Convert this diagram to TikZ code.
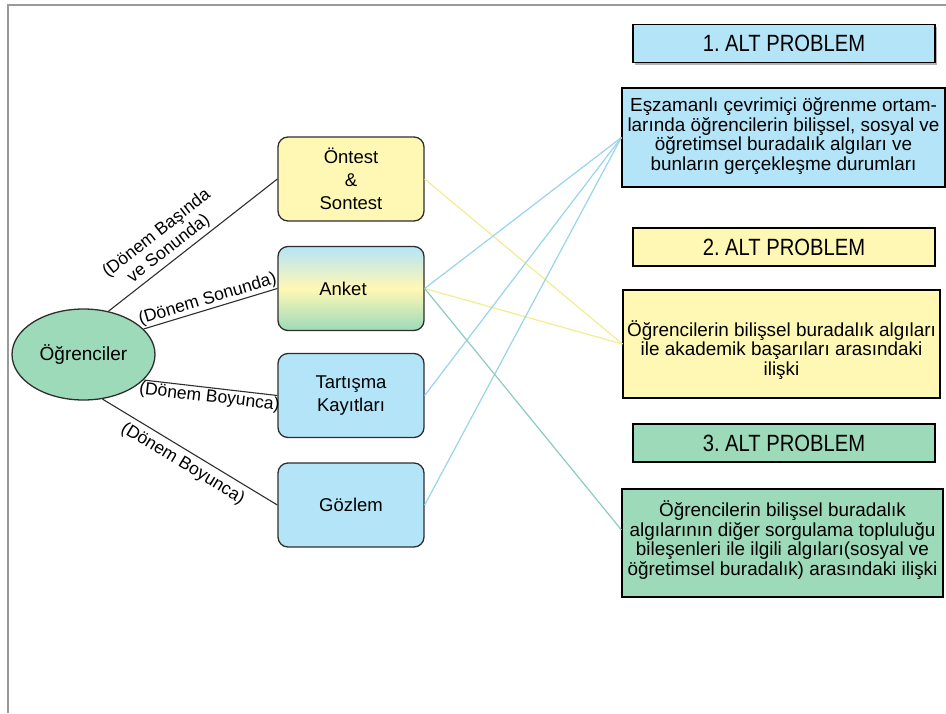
\documentclass[tikz,border=0pt]{standalone}
\usepackage{fontspec}
\setmainfont{Liberation Sans}
\newfontfamily\narrowsans[FakeStretch=0.86]{Liberation Sans}
\usetikzlibrary{shapes.geometric,shadows,calc}

\definecolor{pyellow}{HTML}{FFF8B4}
\definecolor{pblue}{HTML}{B4E4F7}
\definecolor{pgreen}{HTML}{9CDAB9}
\definecolor{edgedark}{HTML}{2E2E2E}
\definecolor{linkyellow}{HTML}{F3ED98}
\definecolor{linkblue}{HTML}{98D4EC}
\definecolor{linkteal}{HTML}{8CCBC2}
\definecolor{framegray}{HTML}{9A9A9A}

\begin{document}
\frenchspacing
\begin{tikzpicture}[x=1pt,y=-1pt,
  source/.style={draw=edgedark, line width=1.3pt, rounded corners=10pt,
    minimum width=146pt, minimum height=84pt, align=center, inner sep=0pt,
    font=\fontsize{18.5}{23}\selectfont},
  header/.style={draw=black, line width=1.2pt, minimum width=302pt,
    minimum height=38pt, inner sep=0pt, font=\narrowsans\fontsize{23.5}{24}\selectfont},
  panel/.style={draw=black, line width=1.2pt, inner sep=0pt},
  paneltext/.style={align=center, inner sep=0pt, font=\fontsize{18.9}{19.5}\selectfont},
  tie/.style={draw=edgedark, line width=1.1pt},
  when/.style={sloped, align=center, inner sep=1pt, font=\fontsize{17.5}{19.5}\selectfont},
  ylink/.style={draw=linkyellow, line width=1.3pt},
  blink/.style={draw=linkblue, line width=1.2pt},
  tlink/.style={draw=linkteal, line width=1.2pt},
]
\useasboundingbox (0,0) rectangle (946,713);

% page frame
\draw[framegray, line width=1.5pt] (8,713) -- (8,5) -- (946,5);

% students and data sources
\node[ellipse, draw=edgedark, line width=1.3pt, fill=pgreen,
      minimum width=143pt, minimum height=91pt, inner sep=0pt,
      font=\fontsize{19}{19}\selectfont] (stu) at (83.5,354.5) {Öğrenciler};

\node[source, fill=pyellow] (pre) at (351,179) {Öntest\\\&\\Sontest};
\node[source, top color=pblue, bottom color=pgreen, middle color=pyellow] (ank) at (351,288.5) {\hspace*{-16pt}Anket};
\node[source, fill=pblue] (tar) at (351,395.5) {Tartışma\\Kayıtları};
\node[source, fill=pblue] (goz) at (351,505) {Gözlem};

% sub-problem headers and descriptions
\node[header, fill=pblue, drop shadow={shadow xshift=1.5pt, shadow yshift=-2pt, opacity=0.6}] (h1) at (784,43.5) {1. ALT PROBLEM};
\node[header, fill=pyellow] (h2) at (784,247) {2. ALT PROBLEM};
\node[header, fill=pgreen] (h3) at (784,443) {3. ALT PROBLEM};

\node[panel, fill=pblue, minimum width=323pt, minimum height=99pt] (b1) at (783.5,137.5) {};
\node[paneltext] (t1) at (783.5,136) {Eşzamanlı çevrimiçi öğrenme ortam-\\larında öğrencilerin bilişsel, sosyal ve\\öğretimsel buradalık algıları ve\\bunların gerçekleşme durumları};

\node[panel, fill=pyellow, minimum width=317pt, minimum height=108pt] (b2) at (781.5,344) {};
\node[paneltext] (t2) at (781.5,350) {Öğrencilerin bilişsel buradalık algıları\\ile akademik başarıları arasındaki\\ilişki};

\node[panel, fill=pgreen, minimum width=321pt, minimum height=108pt] (b3) at (782.5,543) {};
\node[paneltext] (t3) at (782.5,540) {Öğrencilerin bilişsel buradalık\\algılarının diğer sorgulama topluluğu\\bileşenleri ile ilgili algıları(sosyal ve\\öğretimsel buradalık) arasındaki ilişki};

% when each source is collected
\draw[tie] (stu.60) -- node[when, pos=0.4, above=2pt] {(Dönem Başında\\ve Sonunda)} (pre.west);
\draw[tie] (stu.23) -- node[when, midway, above] {(Dönem Sonunda)} (ank.west);
\draw[tie] (stu.-23) -- node[when, midway, below] {(Dönem Boyunca)} (tar.west);
\draw[tie] (stu.-67) -- node[when, midway, below=4pt] {(Dönem Boyunca)} (goz.west);

% which source feeds which sub-problem
\draw[ylink] (pre.east) -- (b2.west);
\draw[ylink] (ank.east) -- (b2.west);
\draw[blink] (ank.east) -- (b1.west);
\draw[blink] (tar.east) -- (b1.west);
\draw[blink] (goz.east) -- (b1.west);
\coordinate (b3in) at ($(b3.north west)!0.38!(b3.south west)$);
\draw[tlink] (ank.east) -- (b3in);
\end{tikzpicture}
\end{document}
